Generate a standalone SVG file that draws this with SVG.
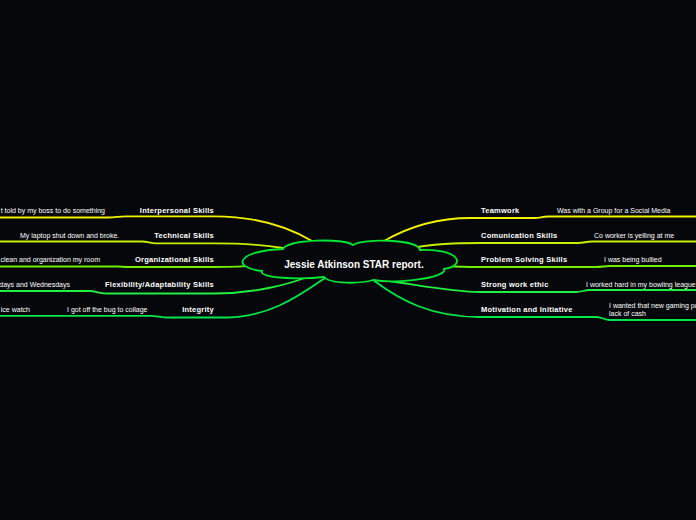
<svg xmlns="http://www.w3.org/2000/svg" width="696" height="520" viewBox="0 0 696 520">
<style>
.t{font-family:"Liberation Sans",Arial,sans-serif;font-weight:bold;font-size:7.5px;letter-spacing:0.25px;fill:#ffffff}
.s{font-family:"Liberation Sans",Arial,sans-serif;font-size:7px;fill:#ffffff}
.c{font-family:"Liberation Sans",Arial,sans-serif;font-weight:bold;font-size:10px;fill:#ffffff}
.l{fill:none;stroke-width:1.8;stroke-linecap:round}
.y1{stroke:#f2f200}.y2{stroke:#c4f000}.y3{stroke:#70f000}.y4{stroke:#22f040}.y5{stroke:#00e84c}
</style>
<rect width="696" height="520" fill="#05070a"/>
<g id="connectors">
<path class="l y1" d="M0 217.5 H108 C116 217.5 118 216.3 126 216.3 H214 C260 216.3 290 228 312 241"/>
<path class="l y2" d="M0 241.5 H142 C148 241.5 150 243.3 156 243.3 H214 C245 243.3 265 245 283 248"/>
<path class="l y3" d="M0 266.5 H118 C122 266.5 124 267 128 267 H214 C240 267 255 266 263 265"/>
<path class="l y4" d="M0 291 H90 C96 291 98 293.5 106 293.5 H214 C255 293.5 290 284 310 276"/>
<path class="l y5" d="M0 315.8 H150 C158 315.8 160 317.5 168 317.5 H224 C270 317.5 300 295 325 278"/>
<path class="l y1" d="M384 241 C405 229 435 218 470 218 H535 C540 218 542 216.5 548 216.5 H696"/>
<path class="l y2" d="M418 247 C435 244 460 243 480 243 H578 C584 243 586 241.5 592 241.5 H696"/>
<path class="l y3" d="M447 266 C460 267 470 267 480 267 H596 C602 267 604 266 610 266 H696"/>
<path class="l y4" d="M375 279 C420 285 450 292 480 292 H576 C582 292 584 290 590 290 H696"/>
<path class="l y5" d="M373 280 C400 300 430 317 480 317 H596 C602 317 604 320 610 320 H696"/>
</g>
<g id="center">
<path d="M283 249 C288 239 345 238 353 245 C362 238 418 239 420 250 C458 248 468 265 444 269 C448 278 395 284 373 280 C360 284 330 284 324 277 C300 280 258 278 262 271 C232 268 235 251 283 249 Z" fill="#05070a" stroke="#00e634" stroke-width="1.8"/>
<text class="c" x="354" y="267.5" text-anchor="middle">Jessie Atkinson STAR report.</text>
</g>
<g id="interpersonal">
<text class="t" x="214" y="213" text-anchor="end">Interpersonal Skills</text>
<text class="s" x="105" y="212.5" text-anchor="end">t told by my boss to do something</text>
</g>
<g id="technical">
<text class="t" x="214" y="238" text-anchor="end">Technical Skills</text>
<text class="s" x="20" y="237.5">My laptop shut down and broke.</text>
</g>
<g id="organizational">
<text class="t" x="214" y="262" text-anchor="end">Organizational Skills</text>
<text class="s" x="100" y="262" text-anchor="end">clean and organization my room</text>
</g>
<g id="flexibility">
<text class="t" x="214" y="287" text-anchor="end">Flexibility/Adaptability Skills</text>
<text class="s" x="70" y="286.5" text-anchor="end">days and Wednesdays</text>
</g>
<g id="integrity">
<text class="t" x="214" y="312" text-anchor="end">Integrity</text>
<text class="s" x="67" y="311.5">I got off the bug to collage</text>
<text class="s" x="30" y="311.5" text-anchor="end">ice watch</text>
</g>
<g id="teamwork">
<text class="t" x="481" y="213">Teamwork</text>
<text class="s" x="557" y="212.5">Was with a Group for a Social Media</text>
</g>
<g id="communication">
<text class="t" x="481" y="238">Comunication Skills</text>
<text class="s" x="594" y="237.5">Co worker is yelling at me</text>
</g>
<g id="problem">
<text class="t" x="481" y="262">Problem Solving Skills</text>
<text class="s" x="604" y="261.5">I was being bullied</text>
</g>
<g id="strong">
<text class="t" x="481" y="287">Strong work ethic</text>
<text class="s" x="586" y="286.5">I worked hard in my bowling league</text>
</g>
<g id="motivation">
<text class="t" x="481" y="312">Motivation and Initiative</text>
<text class="s" x="609" y="307.5">I wanted that new gaming pc</text>
<text class="s" x="609" y="315.5">lack of cash</text>
</g>
</svg>
